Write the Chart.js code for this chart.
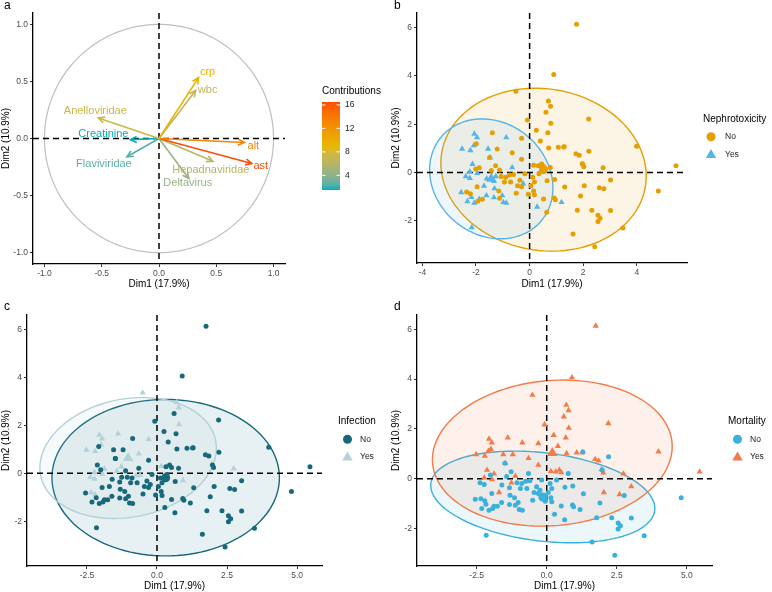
<!DOCTYPE html>
<html>
<head>
<meta charset="utf-8">
<script src="https://cdn.jsdelivr.net/npm/chart.js@4.4.0/dist/chart.umd.min.js"></script>
<style>
  body { margin: 0; background: #fff; width: 772px; height: 592px; position: relative; overflow: hidden; }
  canvas { position: absolute; }
</style>
</head>
<body>
<canvas id="pa" width="390" height="290" style="left:0;top:0"></canvas>
<canvas id="pb" width="382" height="290" style="left:390px;top:0"></canvas>
<canvas id="pc" width="390" height="302" style="left:0;top:290px"></canvas>
<canvas id="pd" width="382" height="302" style="left:390px;top:290px"></canvas>
<script>
// ---- variables (panel a) ----
const varNames = ['crp', 'wbc', 'Anelloviridae', 'Creatinine', 'Flaviviridae', 'alt', 'ast', 'Hepadnaviridae', 'Deltavirus'];
const varDim1 = [0.345, 0.32, -0.53, -0.25, -0.28, 0.745, 0.81, 0.47, 0.26];
const varDim2 = [0.534, 0.42, 0.18, -0.01, -0.16, -0.035, -0.22, -0.20, -0.35];
const varContrib = [9.5, 6.5, 7.3, 1.5, 2.4, 13.0, 16.5, 6.1, 4.5];
const contribTicks = [4, 8, 12, 16];

// ---- individuals (panels b, c, d) ----
const dim1 = [
  1.75, 0.90, -0.51, 0.70, 0.78, 0.61, -0.08, 2.20, 0.79, 0.25,
  0.68, -1.39, -2.06, -1.96, -0.87, -0.30, 0.40, 3.99, 1.07, 1.27,
  0.71, -1.99, -2.08, -2.52, -2.21, -1.55, -1.21, 1.73, 1.85, -0.65,
  -1.48, -0.30, 1.96, 2.02, 2.74, 5.46, -2.13, -1.88, -1.12, -2.23,
  -1.95, 0.15, 0.32, 0.45, 0.52, -1.26, 3.02, -1.70, 2.04, 2.60,
  1.29, 2.21, 1.98, 0.77, 4.80, 2.77, 1.90, 0.92, 0.96, 1.19,
  1.78, 2.32, 3.02, 2.55, 2.63, 2.55, 3.48, 1.62, 2.43, -2.16,
  0.28, 0.64, 0.52, 1.31, 0.65, 0.93, 0.12, 0.18, 0.15, 0.18,
  -0.65, -0.89, -0.60, -0.71, -0.36, -0.18, -0.24, -0.30, -0.50, -1.49,
  -1.27, -2.38, -2.23, -2.01, -1.43, -1.33, -1.06, -0.94, -1.31, -1.15,
  -2.55, -2.35, -2.21, -2.17, -2.32, -1.88, -1.93, -1.76, -1.61, -2.06,
  -1.33, -1.12, -0.98, -0.87, -1.96, -0.45, -0.75, -1.60, -1.02, 0.05,
  0.35, -0.05
];
const dim2 = [
  6.13, 4.06, 3.36, 2.96, 2.74, 2.49, 2.17, 2.22, 2.04, 1.75,
  1.65, 1.65, 1.60, 1.45, 1.45, 1.42, 1.31, 1.09, 1.05, 1.06,
  1.02, 1.19, 1.12, 0.98, 0.92, 0.98, 0.98, 0.78, 0.72, 0.82,
  0.62, 0.55, 0.37, 0.24, 0.20, 0.28, 0.35, 0.20, 0.11, 0.04,
  -0.03, 0.30, 0.28, 0.35, 0.25, -0.16, -0.31, -0.55, -0.55, -0.63,
  1.07, 0.88, 0.35, 0.21, -0.76, -0.67, -0.97, -1.05, -1.12, -1.23,
  -1.56, -1.56, -1.57, -1.77, -1.89, -2.02, -2.29, -2.54, -3.07, -2.27,
  -1.42, -1.64, -1.09, -0.60, -0.34, -0.29, -0.19, -0.39, -0.76, -0.92,
  0.21, -0.19, -0.08, -0.39, -0.32, -0.05, -0.46, -0.59, -0.86, 0.62,
  0.28, -0.16, -0.23, 0.15, 0.09, -0.36, -0.16, -0.39, -0.66, -0.76,
  -0.82, -0.80, -0.88, -1.02, -1.19, -1.10, -1.19, -1.10, -0.95, -1.26,
  -1.03, -1.06, -1.23, -1.26, -0.59, -0.55, -0.10, -0.25, -0.95, -0.55,
  -0.05, -0.90
];
// 1 = Yes, 0 = No
const nephrotoxicity = [
  0,0,0,0,0,0,0,0,0,0, 0,0,1,1,1,0,0,0,0,0, 0,0,1,1,1,1,0,0,0,0,
  1,0,0,0,0,0,1,0,0,1, 1,0,0,0,0,1,0,1,0,0,
  0,0,0,0,0,0,0,0,0,1, 0,0,0,0,0,0,0,0,0,1, 1,0,0,0,0,0,0,0,0,0,
  1,0,0,0,0,0,1,0,0,0, 0,1,1,0,0,1,0,0,1,0, 1,0,0,1,1,1,0,0,1,1,
  1,0,1,1,0,0,0,1,1,0, 0,0
];
const infection = [
  0,0,1,1,1,0,0,0,1,0, 0,1,1,1,0,1,0,0,0,0, 0,1,0,1,1,0,0,0,0,1,
  0,0,1,0,1,0,0,1,0,1, 1,1,0,0,0,0,0,0,0,0,
  0,0,0,0,0,0,0,0,0,0, 0,0,0,0,0,0,0,0,0,0, 0,0,0,0,0,1,0,0,0,0,
  0,0,1,0,0,0,0,0,0,0, 1,1,1,0,1,0,0,0,0,0, 0,1,1,0,0,0,0,0,0,0,
  0,0,0,0,0,0,1,0,0,0, 0,0
];
const mortality = [
  1,1,1,1,1,1,1,1,1,1, 1,1,1,1,1,1,1,1,1,1, 1,1,1,1,1,1,1,1,1,1,
  1,1,1,1,1,1,1,1,1,1, 1,1,1,1,1,1,1,1,1,1,
  0,0,0,0,0,0,0,0,0,0, 0,0,0,0,0,0,0,0,0,0, 0,0,0,0,0,0,0,0,0,0,
  0,0,0,0,0,0,0,0,0,0, 0,0,0,0,0,0,0,0,0,0, 0,0,0,0,0,0,0,0,0,0,
  0,0,0,0,0,0,0,0,0,0, 0,0
];
const groupLabels = ['No', 'Yes'];

// group ellipses, per panel [b, c, d], each [No, Yes]:
// centre (= group mean), half extent along Dim1 / Dim2, and correlation (tilt)
const ellCx = [[0.52, -1.43], [0.31, -1.03], [-0.14, 0.20]];
const ellCy = [[0.12, -0.26], [-0.18, 0.64], [-0.73, 1.03]];
const ellHx = [[3.83, 2.30], [4.06, 3.15], [4.00, 4.28]];
const ellHy = [[3.37, 2.48], [3.26, 2.52], [1.84, 2.93]];
const ellRho = [[-0.08, -0.15], [0.0, 0.16], [-0.25, 0.09]];

const ticks05 = [-1, -0.5, 0, 0.5, 1];
const ticksB_x = [-4, -2, 0, 2, 4];
const ticksCD_x = [-2.5, 0, 2.5, 5];
const ticksInd_y = [-2, 0, 2, 4, 6];

const FONT = '"Liberation Sans", Arial, sans-serif';

// colour helpers (Lab interpolation like ggplot gradients)
function hexToRgb(h) {
  const n = parseInt(h.slice(1), 16);
  return [(n >> 16) & 255, (n >> 8) & 255, n & 255];
}
function rgbToLab(c) {
  const lin = c.map(v => { v /= 255; return v <= 0.04045 ? v / 12.92 : Math.pow((v + 0.055) / 1.055, 2.4); });
  const X = (0.4124 * lin[0] + 0.3576 * lin[1] + 0.1805 * lin[2]) / 0.95047;
  const Y = 0.2126 * lin[0] + 0.7152 * lin[1] + 0.0722 * lin[2];
  const Z = (0.0193 * lin[0] + 0.1192 * lin[1] + 0.9505 * lin[2]) / 1.08883;
  const f = t => t > 0.008856 ? Math.cbrt(t) : 7.787 * t + 16 / 116;
  return [116 * f(Y) - 16, 500 * (f(X) - f(Y)), 200 * (f(Y) - f(Z))];
}
function labToRgb(l) {
  const fy = (l[0] + 16) / 116, fx = fy + l[1] / 500, fz = fy - l[2] / 200;
  const inv = t => t * t * t > 0.008856 ? t * t * t : (t - 16 / 116) / 7.787;
  const X = inv(fx) * 0.95047, Y = inv(fy), Z = inv(fz) * 1.08883;
  const r = 3.2406 * X - 1.5372 * Y - 0.4986 * Z;
  const g = -0.9689 * X + 1.8758 * Y + 0.0415 * Z;
  const b = 0.0557 * X - 0.2040 * Y + 1.0570 * Z;
  return [r, g, b].map(v => {
    v = v <= 0.0031308 ? 12.92 * v : 1.055 * Math.pow(v, 1 / 2.4) - 0.055;
    return Math.round(Math.max(0, Math.min(1, v)) * 255);
  });
}
const gradCols = ['#00AFBB', '#E7B800', '#FC4E07'].map(h => rgbToLab(hexToRgb(h)));
const cMin = Math.min(...varContrib), cMax = Math.max(...varContrib);
function contribColor(v) {
  let t = Math.max(0, Math.min(1, (v - cMin) / (cMax - cMin)));
  const seg = t < 0.5 ? 0 : 1;
  const u = seg === 0 ? t * 2 : (t - 0.5) * 2;
  const a = gradCols[seg], b = gradCols[seg + 1];
  const c = labToRgb([0, 1, 2].map(k => a[k] + (b[k] - a[k]) * u));
  return `rgb(${c[0]},${c[1]},${c[2]})`;
}
function alpha(hex, a) {
  const c = hexToRgb(hex);
  return `rgba(${c[0]},${c[1]},${c[2]},${a})`;
}

function axisOpts(dir, min, max, tickVals, dec, title, size) {
  return {
    type: 'linear', min: min, max: max,
    afterBuildTicks: ax => { ax.ticks = tickVals.map(v => ({ value: v })); },
    afterFit: s => { if (dir === 'x') s.height = size; else s.width = size; },
    grid: { drawOnChartArea: false, color: '#333', tickLength: 3, tickWidth: 1 },
    border: { display: true, color: '#000', width: 1.3 },
    ticks: { color: '#4d4d4d', font: { size: 8.5, family: FONT }, padding: 2, callback: v => v.toFixed(dec) },
    title: { display: true, text: title, color: '#000', font: { size: 10, family: FONT }, padding: 0 }
  };
}

function drawZeroLines(chart) {
  const { ctx, chartArea: ca, scales: { x, y } } = chart;
  ctx.save();
  ctx.strokeStyle = '#000';
  ctx.lineWidth = 1.5;
  ctx.setLineDash([6, 4]);
  const px = x.getPixelForValue(0), py = y.getPixelForValue(0);
  ctx.beginPath();
  ctx.moveTo(ca.left, py); ctx.lineTo(ca.right, py);
  ctx.moveTo(px, ca.top); ctx.lineTo(px, ca.bottom);
  ctx.stroke();
  ctx.restore();
}

function drawLetter(ctx, letter, x, y) {
  ctx.save();
  ctx.fillStyle = '#000';
  ctx.font = `12px ${FONT}`;
  ctx.textBaseline = 'middle';
  ctx.fillText(letter, x, y);
  ctx.restore();
}

// ---- panel a ----
const labelOffsets = [[9, -6], [12, -1], [-3, -7], [-27, -6], [-23, 7], [9, 3], [9, 2], [-2, 9], [-1, 5]];

const varPlugin = {
  id: 'varPlugin',
  beforeDatasetsDraw(chart) {
    const { ctx, scales: { x, y } } = chart;
    ctx.save();
    ctx.beginPath();
    for (let i = 0; i <= 200; i++) {
      const t = i / 200 * 2 * Math.PI;
      const px = x.getPixelForValue(Math.cos(t)), py = y.getPixelForValue(Math.sin(t));
      if (i) ctx.lineTo(px, py); else ctx.moveTo(px, py);
    }
    ctx.strokeStyle = '#bebebe';
    ctx.lineWidth = 1.2;
    ctx.stroke();
    ctx.restore();
    drawZeroLines(chart);
  },
  afterDatasetsDraw(chart) {
    const { ctx, scales: { x, y } } = chart;
    ctx.save();
    varNames.forEach((name, i) => {
      const col = contribColor(varContrib[i]);
      const x0 = x.getPixelForValue(0), y0 = y.getPixelForValue(0);
      const x1 = x.getPixelForValue(varDim1[i]), y1 = y.getPixelForValue(varDim2[i]);
      const ang = Math.atan2(y1 - y0, x1 - x0);
      ctx.strokeStyle = col;
      ctx.lineWidth = 1.6;
      ctx.beginPath();
      ctx.moveTo(x1 - 7 * Math.cos(ang - 0.45), y1 - 7 * Math.sin(ang - 0.45));
      ctx.lineTo(x1, y1);
      ctx.lineTo(x1 - 7 * Math.cos(ang + 0.45), y1 - 7 * Math.sin(ang + 0.45));
      ctx.stroke();
      ctx.fillStyle = col;
      ctx.font = `11px ${FONT}`;
      ctx.textAlign = 'center';
      ctx.textBaseline = 'middle';
      ctx.fillText(name, x1 + labelOffsets[i][0], y1 + labelOffsets[i][1]);
    });
    ctx.restore();
  },
  afterDraw(chart) {
    const ctx = chart.ctx;
    ctx.save();
    // colour bar legend
    const bx = 322, bw = 18, top = 102, bot = 190;
    const vy = v => bot - (v - cMin) / (cMax - cMin) * (bot - top);
    const g = ctx.createLinearGradient(0, bot, 0, top);
    for (let i = 0; i <= 20; i++) g.addColorStop(i / 20, contribColor(cMin + (cMax - cMin) * i / 20));
    ctx.fillStyle = g;
    ctx.fillRect(bx, top, bw, bot - top);
    ctx.fillStyle = '#000';
    ctx.font = `10px ${FONT}`;
    ctx.textBaseline = 'middle';
    ctx.fillText('Contributions', 322, 91);
    ctx.font = `8.5px ${FONT}`;
    contribTicks.forEach(v => {
      const py = vy(v);
      ctx.strokeStyle = '#fff';
      ctx.lineWidth = 1;
      ctx.beginPath();
      ctx.moveTo(bx, py); ctx.lineTo(bx + 3.5, py);
      ctx.moveTo(bx + bw - 3.5, py); ctx.lineTo(bx + bw, py);
      ctx.stroke();
      ctx.fillStyle = '#222';
      ctx.fillText(String(v), bx + bw + 5, py);
    });
    ctx.restore();
    drawLetter(ctx, 'a', 4, 6);
  }
};

new Chart(document.getElementById('pa'), {
  type: 'scatter',
  data: {
    datasets: varNames.map((n, i) => ({
      label: n,
      data: [{ x: 0, y: 0 }, { x: varDim1[i], y: varDim2[i] }],
      showLine: true,
      borderColor: contribColor(varContrib[i]),
      borderWidth: 1.6,
      pointRadius: 0
    }))
  },
  options: {
    responsive: false, animation: false, events: [],
    layout: { padding: { top: 13, right: 105, left: 0, bottom: 0 } },
    plugins: { legend: { display: false }, tooltip: { enabled: false } },
    scales: {
      x: axisOpts('x', -1.1, 1.1, ticks05, 1, 'Dim1 (17.9%)', 26),
      y: axisOpts('y', -1.1, 1.1, ticks05, 1, 'Dim2 (10.9%)', 33)
    }
  },
  plugins: [varPlugin]
});

// ---- panels b, c, d ----
function ellipsePts(p, g) {
  const cx = ellCx[p][g], cy = ellCy[p][g], hx = ellHx[p][g], hy = ellHy[p][g], r = ellRho[p][g];
  const pts = [];
  for (let i = 0; i <= 120; i++) {
    const t = i / 120 * 2 * Math.PI;
    pts.push({ x: cx + hx * Math.cos(t), y: cy + hy * (r * Math.cos(t) + Math.sqrt(1 - r * r) * Math.sin(t)) });
  }
  return pts;
}

function drawTri(ctx, x, y, r) {
  ctx.beginPath();
  for (let k = 0; k < 3; k++) {
    const a = -Math.PI / 2 + k * 2 * Math.PI / 3;
    const px = x + r * Math.cos(a), py = y + r * Math.sin(a);
    if (k) ctx.lineTo(px, py); else ctx.moveTo(px, py);
  }
  ctx.closePath();
  ctx.fill();
}

function makeIndChart(id, p, groups, colors, title, letter, xr, xTicks, xDec, yr, leg, pad) {
  const pts = [0, 1].map(g => {
    const out = [];
    groups.forEach((v, i) => { if (v === g) out.push({ x: dim1[i], y: dim2[i] }); });
    return out;
  });
  const plugin = {
    id: 'ind' + id,
    beforeDatasetsDraw(chart) {
      const { ctx, scales: { x, y } } = chart;
      ctx.save();
      [0, 1].forEach(g => {
        ctx.beginPath();
        ellipsePts(p, g).forEach((q, i) => {
          const px = x.getPixelForValue(q.x), py = y.getPixelForValue(q.y);
          if (i) ctx.lineTo(px, py); else ctx.moveTo(px, py);
        });
        ctx.closePath();
        ctx.fillStyle = alpha(colors[g], 0.1);
        ctx.fill();
        ctx.strokeStyle = colors[g];
        ctx.lineWidth = 1.4;
        ctx.stroke();
      });
      ctx.restore();
      drawZeroLines(chart);
    },
    afterDraw(chart) {
      const ctx = chart.ctx;
      ctx.save();
      ctx.fillStyle = '#000';
      ctx.font = `10px ${FONT}`;
      ctx.textBaseline = 'middle';
      ctx.fillText(title, leg.tx, leg.ty);
      groupLabels.forEach((lab, g) => {
        const sy = leg.sy + g * leg.dy;
        ctx.fillStyle = colors[g];
        if (g === 0) { ctx.beginPath(); ctx.arc(leg.sx, sy, 4.5, 0, 2 * Math.PI); ctx.fill(); }
        else drawTri(ctx, leg.sx, sy + 0.8, 6);
        ctx.fillStyle = '#222';
        ctx.font = `8.5px ${FONT}`;
        ctx.fillText(lab, leg.lx, sy);
      });
      ctx.restore();
      drawLetter(ctx, letter, 4, leg.letterY);
    }
  };
  const datasets = [
    { label: 'No', data: pts[0], pointStyle: 'circle', pointRadius: 2.5,
      backgroundColor: colors[0], borderColor: colors[0], borderWidth: 0 },
    { label: 'Yes', data: pts[1], pointStyle: 'triangle', pointRadius: 3.6,
      backgroundColor: colors[1], borderColor: colors[1], borderWidth: 0 },
    { label: 'No mean', data: [{ x: ellCx[p][0], y: ellCy[p][0] }], pointStyle: 'circle', pointRadius: 4.5,
      backgroundColor: colors[0], borderColor: colors[0], borderWidth: 0 },
    { label: 'Yes mean', data: [{ x: ellCx[p][1], y: ellCy[p][1] }], pointStyle: 'triangle', pointRadius: 6,
      backgroundColor: colors[1], borderColor: colors[1], borderWidth: 0 }
  ];
  new Chart(document.getElementById(id), {
    type: 'scatter',
    data: { datasets },
    options: {
      responsive: false, animation: false, events: [],
      layout: { padding: pad },
      plugins: { legend: { display: false }, tooltip: { enabled: false } },
      scales: {
        x: axisOpts('x', xr[0], xr[1], xTicks, xDec, 'Dim1 (17.9%)', pad.xh),
        y: axisOpts('y', yr[0], yr[1], ticksInd_y, 0, 'Dim2 (10.9%)', pad.yw)
      }
    },
    plugins: [plugin]
  });
}

makeIndChart('pb', 0, nephrotoxicity, ['#E69F00', '#56B4E9'], 'Nephrotoxicity', 'b',
  [-4.2, 5.87], ticksB_x, 0, [-3.74, 6.6],
  { tx: 313, ty: 119, sx: 321, sy: 136.7, dy: 17.6, lx: 335, letterY: 6 },
  { top: 13, right: 85, left: 0, bottom: 0, xh: 27, yw: 27 });

makeIndChart('pc', 1, infection, ['#17687B', '#B3D1D8'], 'Infection', 'c',
  [-4.64, 5.89], ticksCD_x, 1, [-3.86, 6.6],
  { tx: 338, ty: 131.7, sx: 347.5, sy: 149.3, dy: 17.4, lx: 360, letterY: 17 },
  { top: 25, right: 68, left: 0, bottom: 0, xh: 26, yw: 27 });

makeIndChart('pd', 2, mortality, ['#3AB1DB', '#F47A47'], 'Mortality', 'd',
  [-4.63, 5.9], ticksCD_x, 1, [-3.5, 6.57],
  { tx: 338, ty: 131.7, sx: 347.5, sy: 149.3, dy: 17.4, lx: 360, letterY: 17 },
  { top: 25, right: 60, left: 0, bottom: 0, xh: 26, yw: 27 });
</script>
</body>
</html>
